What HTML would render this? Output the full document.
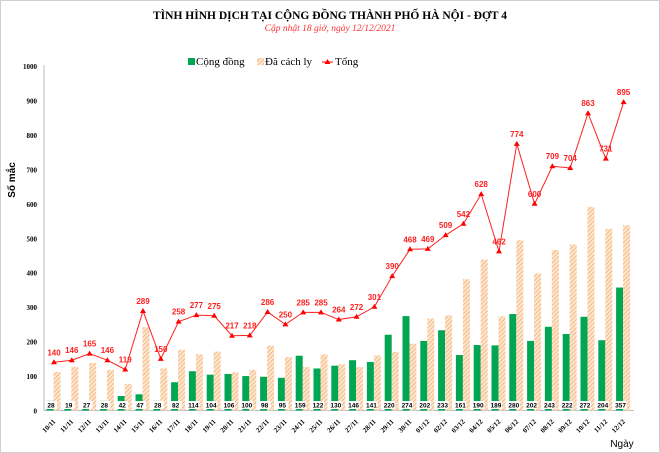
<!DOCTYPE html>
<html><head><meta charset="utf-8"><style>
body{margin:0;background:#fff;width:660px;height:453px;overflow:hidden}
svg{display:block}
</style></head><body>
<svg id="c" width="660" height="453" xmlns="http://www.w3.org/2000/svg">
<defs>
<pattern id="h" width="3" height="3" patternUnits="userSpaceOnUse" patternTransform="rotate(45)">
<rect width="3" height="3" fill="#fde6cf"/><line x1="0" y1="0" x2="0" y2="3" stroke="#f4a35c" stroke-width="1.3"/>
</pattern>
</defs>
<rect x="0.5" y="0.5" width="659" height="452" fill="#fff" stroke="#d0d0d0"/>
<text x="330" y="19" text-anchor="middle" font-family="Liberation Serif" font-weight="bold" font-size="11.5">TÌNH HÌNH DỊCH TẠI CỘNG ĐỒNG THÀNH PHỐ HÀ NỘI - ĐỢT 4</text>
<text x="330" y="31" text-anchor="middle" font-family="Liberation Serif" font-style="italic" font-size="9.5" fill="#ff3030">Cập nhật 18 giờ, ngày 12/12/2021</text>
<rect x="188" y="58" width="7" height="7" fill="#00a651"/>
<text x="196" y="65" font-family="Liberation Serif" font-size="11">Cộng đồng</text>
<rect x="257" y="58" width="7" height="7" fill="url(#h)"/>
<text x="265" y="65" font-family="Liberation Serif" font-size="11">Đã cách ly</text>
<line x1="322" y1="62" x2="333" y2="62" stroke="#ff0000"/><path d="M327.5 59 L330.5 64 L324.5 64Z" fill="#ff0000"/>
<text x="335" y="65" font-family="Liberation Serif" font-size="11">Tổng</text>
<text transform="translate(15,180) rotate(-90)" text-anchor="middle" font-family="Liberation Sans" font-weight="bold" font-size="10">Số mắc</text>
<text x="622" y="447" text-anchor="middle" font-family="Liberation Sans" font-size="10">Ngày</text>
<g id="g"></g>
</svg>
<script>
var cm=[28,19,27,28,42,47,28,82,114,104,106,100,98,95,159,122,130,146,141,220,274,202,233,161,190,189,280,202,243,222,272,204,357];
var tt=[140,146,165,146,119,289,150,258,277,275,217,218,286,250,285,285,264,272,301,390,468,469,509,542,628,462,774,600,709,704,863,731,895];
var d=[];for(var i=10;i<=30;i++)d.push(i+"/11");for(i=1;i<=12;i++)d.push((i<10?"0":"")+i+"/12");
var Y0=410.5,S=0.3445,X0=53,DX=17.8,s="";
function y(v){return Y0-v*S}
for(i=0;i<=10;i++){s+='<text x="37" y="'+(y(i*100)+3)+'" text-anchor="end" font-family="Liberation Serif" font-weight="bold" font-size="7">'+(i*100)+'</text>';}
s+='<line x1="44" y1="65" x2="44" y2="411" stroke="#bbb"/><line x1="44" y1="410.5" x2="634" y2="410.5" stroke="#bbb"/>';
var pts=[];
for(i=0;i<33;i++){var c=X0+i*DX,o=tt[i]-cm[i];
s+='<rect x="'+(c-6.5)+'" y="'+y(cm[i])+'" width="7" height="'+cm[i]*S+'" fill="#00a651"/>';
s+='<rect x="'+(c+0.5)+'" y="'+y(o)+'" width="7" height="'+o*S+'" fill="url(#h)"/>';
s+='<rect x="'+(c-8)+'" y="401" width="12" height="8" fill="#fff"/>';
s+='<text x="'+(c-2)+'" y="407.5" text-anchor="middle" font-family="Liberation Sans" font-size="6.5" font-weight="bold">'+cm[i]+'</text>';
s+='<text transform="translate('+(c+3)+',422) rotate(-45)" text-anchor="end" font-family="Liberation Serif" font-weight="bold" font-size="7">'+d[i]+'</text>';
pts.push((c+1)+','+y(tt[i]));}
s+='<polyline points="'+pts.join(' ')+'" fill="none" stroke="#ff2020" stroke-width="1"/>';
for(i=0;i<33;i++){var p=pts[i].split(',');var px=+p[0],py=+p[1];
s+='<path d="M'+px+' '+(py-3)+' L'+(px+3)+' '+(py+2)+' L'+(px-3)+' '+(py+2)+'Z" fill="#ff0000"/>';
s+='<text x="'+px+'" y="'+(py-7)+'" text-anchor="middle" font-family="Liberation Sans" font-weight="bold" font-size="8" fill="#ff2020">'+tt[i]+'</text>';}
document.getElementById('g').innerHTML=s;
</script>
</body></html>
